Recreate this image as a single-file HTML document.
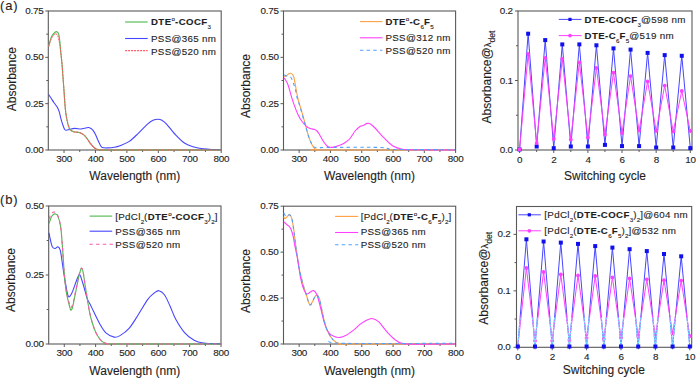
<!DOCTYPE html><html><head><meta charset="utf-8"><style>html,body{margin:0;padding:0;background:#fff;width:696px;height:378px;overflow:hidden}svg{display:block}</style></head><body>
<svg width="696" height="378" viewBox="0 0 696 378" font-family='"Liberation Sans", sans-serif' stroke-linecap="butt"><style>text{stroke:#1e1e1e;stroke-width:0.12px;paint-order:stroke}</style>
<text x="0" y="9.8" font-size="13" letter-spacing="0.8" fill="#1e1e1e">(a)</text>
<text x="0" y="203.8" font-size="13" letter-spacing="0.8" fill="#1e1e1e">(b)</text>
<rect x="48.3" y="11" width="172.89999999999998" height="139" fill="none" stroke="#5a5a5a" stroke-width="1.1"/>
<line x1="64.02" y1="150" x2="64.02" y2="153" stroke="#5a5a5a" stroke-width="1"/>
<text x="64.14" y="161.60" text-anchor="middle" font-size="9.9" letter-spacing="-0.25" fill="#1e1e1e">300</text>
<line x1="95.45" y1="150" x2="95.45" y2="153" stroke="#5a5a5a" stroke-width="1"/>
<text x="95.57" y="161.60" text-anchor="middle" font-size="9.9" letter-spacing="-0.25" fill="#1e1e1e">400</text>
<line x1="126.89" y1="150" x2="126.89" y2="153" stroke="#5a5a5a" stroke-width="1"/>
<text x="127.01" y="161.60" text-anchor="middle" font-size="9.9" letter-spacing="-0.25" fill="#1e1e1e">500</text>
<line x1="158.33" y1="150" x2="158.33" y2="153" stroke="#5a5a5a" stroke-width="1"/>
<text x="158.45" y="161.60" text-anchor="middle" font-size="9.9" letter-spacing="-0.25" fill="#1e1e1e">600</text>
<line x1="189.76" y1="150" x2="189.76" y2="153" stroke="#5a5a5a" stroke-width="1"/>
<text x="189.88" y="161.60" text-anchor="middle" font-size="9.9" letter-spacing="-0.25" fill="#1e1e1e">700</text>
<line x1="221.20" y1="150" x2="221.20" y2="153" stroke="#5a5a5a" stroke-width="1"/>
<text x="221.32" y="161.60" text-anchor="middle" font-size="9.9" letter-spacing="-0.25" fill="#1e1e1e">800</text>
<line x1="79.74" y1="150" x2="79.74" y2="152" stroke="#5a5a5a" stroke-width="1"/>
<line x1="111.17" y1="150" x2="111.17" y2="152" stroke="#5a5a5a" stroke-width="1"/>
<line x1="142.61" y1="150" x2="142.61" y2="152" stroke="#5a5a5a" stroke-width="1"/>
<line x1="174.05" y1="150" x2="174.05" y2="152" stroke="#5a5a5a" stroke-width="1"/>
<line x1="205.48" y1="150" x2="205.48" y2="152" stroke="#5a5a5a" stroke-width="1"/>
<line x1="45.3" y1="150.0" x2="48.3" y2="150.0" stroke="#5a5a5a" stroke-width="1"/>
<text x="43.6" y="153.00" text-anchor="end" font-size="9.9" letter-spacing="-0.25" fill="#1e1e1e">0.00</text>
<line x1="45.3" y1="103.66666666666666" x2="48.3" y2="103.66666666666666" stroke="#5a5a5a" stroke-width="1"/>
<text x="43.6" y="106.67" text-anchor="end" font-size="9.9" letter-spacing="-0.25" fill="#1e1e1e">0.25</text>
<line x1="45.3" y1="57.33333333333333" x2="48.3" y2="57.33333333333333" stroke="#5a5a5a" stroke-width="1"/>
<text x="43.6" y="60.33" text-anchor="end" font-size="9.9" letter-spacing="-0.25" fill="#1e1e1e">0.50</text>
<line x1="45.3" y1="11.0" x2="48.3" y2="11.0" stroke="#5a5a5a" stroke-width="1"/>
<text x="43.6" y="14.00" text-anchor="end" font-size="9.9" letter-spacing="-0.25" fill="#1e1e1e">0.75</text>
<line x1="46.3" y1="126.83333333333333" x2="48.3" y2="126.83333333333333" stroke="#5a5a5a" stroke-width="1"/>
<line x1="46.3" y1="80.5" x2="48.3" y2="80.5" stroke="#5a5a5a" stroke-width="1"/>
<line x1="46.3" y1="34.16666666666666" x2="48.3" y2="34.16666666666666" stroke="#5a5a5a" stroke-width="1"/>
<text x="134.8" y="180.3" text-anchor="middle" font-size="12" fill="#1e1e1e">Wavelength (nm)</text>
<text transform="translate(16.1,79.2) rotate(-90)" text-anchor="middle" font-size="12" fill="#1e1e1e">Absorbance</text>
<path d="M48.60,94.50 C49.05,95.17 50.42,97.17 51.30,98.50 C52.18,99.83 52.92,101.07 53.90,102.50 C54.88,103.93 56.32,105.57 57.20,107.10 C58.08,108.63 58.53,109.60 59.20,111.70 C59.87,113.80 60.53,117.32 61.20,119.70 C61.87,122.08 62.62,124.37 63.20,126.00 C63.78,127.63 64.17,128.78 64.70,129.50 C65.23,130.22 65.53,130.32 66.40,130.30 C67.27,130.28 68.53,129.72 69.90,129.40 C71.27,129.08 72.75,128.47 74.60,128.40 C76.45,128.33 79.35,129.03 81.00,129.00 C82.65,128.97 83.27,128.45 84.50,128.20 C85.73,127.95 87.32,127.45 88.40,127.50 C89.48,127.55 90.23,128.03 91.00,128.50 C91.77,128.97 92.25,129.30 93.00,130.30 C93.75,131.30 94.72,132.95 95.50,134.50 C96.28,136.05 97.03,138.10 97.70,139.60 C98.37,141.10 98.88,142.30 99.50,143.50 C100.12,144.70 100.65,146.08 101.40,146.80 C102.15,147.52 103.07,147.62 104.00,147.80 C104.93,147.98 105.27,148.00 107.00,147.90 C108.73,147.80 112.23,147.57 114.40,147.20 C116.57,146.83 117.52,146.67 120.00,145.70 C122.48,144.73 126.22,143.50 129.30,141.40 C132.38,139.30 135.42,136.03 138.50,133.10 C141.58,130.17 145.38,125.93 147.80,123.80 C150.22,121.67 151.30,121.07 153.00,120.30 C154.70,119.53 156.50,119.20 158.00,119.20 C159.50,119.20 160.62,119.53 162.00,120.30 C163.38,121.07 164.03,121.37 166.30,123.80 C168.57,126.23 172.52,131.65 175.60,134.90 C178.68,138.15 181.72,141.28 184.80,143.30 C187.88,145.32 191.02,146.08 194.10,147.00 C197.18,147.92 200.32,148.38 203.30,148.80 C206.28,149.22 209.05,149.35 212.00,149.50 C214.95,149.65 219.50,149.67 221.00,149.70" fill="none" stroke="#4646ff" stroke-width="1.1" stroke-linejoin="round"/>
<path d="M48.60,46.50 C49.05,44.95 50.42,39.40 51.30,37.20 C52.18,35.00 53.07,34.23 53.90,33.30 C54.73,32.37 55.52,31.50 56.30,31.60 C57.08,31.70 58.00,32.18 58.60,33.90 C59.20,35.62 59.53,38.80 59.90,41.90 C60.27,45.00 60.47,48.98 60.80,52.50 C61.13,56.02 61.55,59.08 61.90,63.00 C62.25,66.92 62.57,71.63 62.90,76.00 C63.23,80.37 63.58,84.78 63.90,89.20 C64.22,93.62 64.48,98.53 64.80,102.50 C65.12,106.47 65.40,109.92 65.80,113.00 C66.20,116.08 66.75,118.83 67.20,121.00 C67.65,123.17 68.05,124.60 68.50,126.00 C68.95,127.40 69.05,128.43 69.90,129.40 C70.75,130.37 72.05,131.28 73.60,131.80 C75.15,132.32 77.50,131.98 79.20,132.50 C80.90,133.02 82.50,133.90 83.80,134.90 C85.10,135.90 85.92,137.10 87.00,138.50 C88.08,139.90 89.30,141.97 90.30,143.30 C91.30,144.63 92.07,145.58 93.00,146.50 C93.93,147.42 94.82,148.27 95.90,148.80 C96.98,149.33 97.15,149.50 99.50,149.70 C101.85,149.90 89.75,149.95 110.00,150.00 C130.25,150.05 202.50,150.00 221.00,150.00" fill="none" stroke="#4cb84c" stroke-width="1.1" stroke-linejoin="round"/>
<path d="M48.60,46.50 C49.05,45.18 50.42,40.58 51.30,38.60 C52.18,36.62 53.20,35.40 53.90,34.60 C54.60,33.80 54.85,33.60 55.50,33.80 C56.15,34.00 57.12,34.18 57.80,35.80 C58.48,37.42 59.10,40.72 59.60,43.50 C60.10,46.28 60.42,49.25 60.80,52.50 C61.18,55.75 61.55,59.08 61.90,63.00 C62.25,66.92 62.57,71.63 62.90,76.00 C63.23,80.37 63.58,84.78 63.90,89.20 C64.22,93.62 64.48,98.53 64.80,102.50 C65.12,106.47 65.40,109.92 65.80,113.00 C66.20,116.08 66.75,118.83 67.20,121.00 C67.65,123.17 68.05,124.60 68.50,126.00 C68.95,127.40 69.05,128.43 69.90,129.40 C70.75,130.37 72.05,131.28 73.60,131.80 C75.15,132.32 77.50,131.98 79.20,132.50 C80.90,133.02 82.50,133.90 83.80,134.90 C85.10,135.90 85.92,137.10 87.00,138.50 C88.08,139.90 89.30,141.97 90.30,143.30 C91.30,144.63 92.07,145.58 93.00,146.50 C93.93,147.42 94.82,148.27 95.90,148.80 C96.98,149.33 97.15,149.50 99.50,149.70 C101.85,149.90 89.75,149.95 110.00,150.00 C130.25,150.05 202.50,150.00 221.00,150.00" fill="none" stroke="#ff5a66" stroke-width="1.1" stroke-dasharray="2,1" stroke-linejoin="round"/>
<line x1="125.1" y1="22" x2="147.7" y2="22" stroke="#4cb84c" stroke-width="1.1"/>
<line x1="125.1" y1="38.5" x2="147.7" y2="38.5" stroke="#4646ff" stroke-width="1.1"/>
<line x1="125.1" y1="50.6" x2="147.7" y2="50.6" stroke="#ff5a66" stroke-width="1.1" stroke-dasharray="2,1"/>
<text x="151" y="25.2" fill="#1e1e1e"><tspan dy="0.00" font-size="9.6" letter-spacing="0.42" font-weight="bold">DTE</tspan><tspan dy="-4.30" font-size="6.2" letter-spacing="0.2">o</tspan><tspan dy="4.30" font-size="9.6" letter-spacing="0.42" font-weight="bold">-COCF</tspan><tspan dy="4.10" font-size="6.2" letter-spacing="0">3</tspan></text>
<text x="151" y="42.1" fill="#1e1e1e"><tspan dy="0.00" font-size="9.8" letter-spacing="0.3">PSS@365 nm</tspan></text>
<text x="151" y="55" fill="#1e1e1e"><tspan dy="0.00" font-size="9.8" letter-spacing="0.3">PSS@520 nm</tspan></text>
<rect x="283.5" y="11" width="172.10000000000002" height="139" fill="none" stroke="#5a5a5a" stroke-width="1.1"/>
<line x1="299.15" y1="150" x2="299.15" y2="153" stroke="#5a5a5a" stroke-width="1"/>
<text x="299.27" y="161.60" text-anchor="middle" font-size="9.9" letter-spacing="-0.25" fill="#1e1e1e">300</text>
<line x1="330.44" y1="150" x2="330.44" y2="153" stroke="#5a5a5a" stroke-width="1"/>
<text x="330.56" y="161.60" text-anchor="middle" font-size="9.9" letter-spacing="-0.25" fill="#1e1e1e">400</text>
<line x1="361.73" y1="150" x2="361.73" y2="153" stroke="#5a5a5a" stroke-width="1"/>
<text x="361.85" y="161.60" text-anchor="middle" font-size="9.9" letter-spacing="-0.25" fill="#1e1e1e">500</text>
<line x1="393.02" y1="150" x2="393.02" y2="153" stroke="#5a5a5a" stroke-width="1"/>
<text x="393.14" y="161.60" text-anchor="middle" font-size="9.9" letter-spacing="-0.25" fill="#1e1e1e">600</text>
<line x1="424.31" y1="150" x2="424.31" y2="153" stroke="#5a5a5a" stroke-width="1"/>
<text x="424.43" y="161.60" text-anchor="middle" font-size="9.9" letter-spacing="-0.25" fill="#1e1e1e">700</text>
<line x1="455.60" y1="150" x2="455.60" y2="153" stroke="#5a5a5a" stroke-width="1"/>
<text x="455.72" y="161.60" text-anchor="middle" font-size="9.9" letter-spacing="-0.25" fill="#1e1e1e">800</text>
<line x1="314.79" y1="150" x2="314.79" y2="152" stroke="#5a5a5a" stroke-width="1"/>
<line x1="346.08" y1="150" x2="346.08" y2="152" stroke="#5a5a5a" stroke-width="1"/>
<line x1="377.37" y1="150" x2="377.37" y2="152" stroke="#5a5a5a" stroke-width="1"/>
<line x1="408.66" y1="150" x2="408.66" y2="152" stroke="#5a5a5a" stroke-width="1"/>
<line x1="439.95" y1="150" x2="439.95" y2="152" stroke="#5a5a5a" stroke-width="1"/>
<line x1="280.5" y1="150.0" x2="283.5" y2="150.0" stroke="#5a5a5a" stroke-width="1"/>
<text x="278.8" y="153.00" text-anchor="end" font-size="9.9" letter-spacing="-0.25" fill="#1e1e1e">0.00</text>
<line x1="280.5" y1="103.66666666666666" x2="283.5" y2="103.66666666666666" stroke="#5a5a5a" stroke-width="1"/>
<text x="278.8" y="106.67" text-anchor="end" font-size="9.9" letter-spacing="-0.25" fill="#1e1e1e">0.25</text>
<line x1="280.5" y1="57.33333333333333" x2="283.5" y2="57.33333333333333" stroke="#5a5a5a" stroke-width="1"/>
<text x="278.8" y="60.33" text-anchor="end" font-size="9.9" letter-spacing="-0.25" fill="#1e1e1e">0.50</text>
<line x1="280.5" y1="11.0" x2="283.5" y2="11.0" stroke="#5a5a5a" stroke-width="1"/>
<text x="278.8" y="14.00" text-anchor="end" font-size="9.9" letter-spacing="-0.25" fill="#1e1e1e">0.75</text>
<line x1="281.5" y1="126.83333333333333" x2="283.5" y2="126.83333333333333" stroke="#5a5a5a" stroke-width="1"/>
<line x1="281.5" y1="80.5" x2="283.5" y2="80.5" stroke="#5a5a5a" stroke-width="1"/>
<line x1="281.5" y1="34.16666666666666" x2="283.5" y2="34.16666666666666" stroke="#5a5a5a" stroke-width="1"/>
<text x="369.5" y="180.3" text-anchor="middle" font-size="12" fill="#1e1e1e">Wavelength (nm)</text>
<text transform="translate(250.2,86) rotate(-90)" text-anchor="middle" font-size="12" fill="#1e1e1e">Absorbance</text>
<path d="M284.20,76.90 C284.55,76.73 285.58,76.38 286.30,75.90 C287.02,75.42 287.78,74.45 288.50,74.00 C289.22,73.55 289.93,73.12 290.60,73.20 C291.27,73.28 291.97,73.87 292.50,74.50 C293.03,75.13 293.35,75.42 293.80,77.00 C294.25,78.58 294.70,81.33 295.20,84.00 C295.70,86.67 296.25,90.17 296.80,93.00 C297.35,95.83 297.88,98.58 298.50,101.00 C299.12,103.42 299.75,105.00 300.50,107.50 C301.25,110.00 302.20,113.20 303.00,116.00 C303.80,118.80 304.22,120.45 305.30,124.30 C306.38,128.15 308.08,135.22 309.50,139.10 C310.92,142.98 312.55,145.87 313.80,147.60 C315.05,149.33 315.63,149.10 317.00,149.50 C318.37,149.90 299.00,149.92 322.00,150.00 C345.00,150.08 432.83,150.00 455.00,150.00" fill="none" stroke="#ffa040" stroke-width="1.1" stroke-linejoin="round"/>
<path d="M284.20,78.00 C284.73,78.88 286.52,81.37 287.40,83.30 C288.28,85.23 288.70,86.95 289.50,89.60 C290.30,92.25 291.15,95.90 292.20,99.20 C293.25,102.50 294.83,106.85 295.80,109.40 C296.77,111.95 297.13,112.73 298.00,114.50 C298.87,116.27 299.60,118.02 301.00,120.00 C302.40,121.98 304.90,124.98 306.40,126.40 C307.90,127.82 308.60,127.97 310.00,128.50 C311.40,129.03 313.63,129.18 314.80,129.60 C315.97,130.02 316.30,130.30 317.00,131.00 C317.70,131.70 317.95,132.10 319.00,133.80 C320.05,135.50 321.87,139.08 323.30,141.20 C324.73,143.32 326.40,145.48 327.60,146.50 C328.80,147.52 329.45,147.20 330.50,147.30 C331.55,147.40 332.48,147.38 333.90,147.10 C335.32,146.82 337.23,146.28 339.00,145.60 C340.77,144.92 342.67,144.18 344.50,143.00 C346.33,141.82 348.23,140.50 350.00,138.50 C351.77,136.50 353.43,133.00 355.10,131.00 C356.77,129.00 358.58,127.45 360.00,126.50 C361.42,125.55 362.42,125.82 363.60,125.30 C364.78,124.78 366.03,123.65 367.10,123.40 C368.17,123.15 368.77,123.12 370.00,123.80 C371.23,124.48 372.20,125.18 374.50,127.50 C376.80,129.82 380.72,134.62 383.80,137.70 C386.88,140.78 389.92,144.08 393.00,146.00 C396.08,147.92 398.63,148.57 402.30,149.20 C405.97,149.83 406.22,149.67 415.00,149.80 C423.78,149.93 448.33,149.97 455.00,150.00" fill="none" stroke="#ff40ff" stroke-width="1.1" stroke-linejoin="round"/>
<path d="M284.20,74.80 C284.55,74.98 285.23,75.53 286.30,75.90 C287.37,76.27 289.35,75.60 290.60,77.00 C291.85,78.40 292.92,81.85 293.80,84.30 C294.68,86.75 295.28,89.22 295.90,91.70 C296.52,94.18 296.82,96.73 297.50,99.20 C298.18,101.67 298.75,102.37 300.00,106.50 C301.25,110.63 303.42,118.58 305.00,124.00 C306.58,129.42 308.08,135.25 309.50,139.00 C310.92,142.75 312.08,145.07 313.50,146.50 C314.92,147.93 315.25,147.45 318.00,147.60 C320.75,147.75 320.00,147.43 330.00,147.40 C340.00,147.37 368.33,147.20 378.00,147.40 C387.67,147.60 385.00,148.25 388.00,148.60 C391.00,148.95 384.83,149.32 396.00,149.50 C407.17,149.68 445.17,149.67 455.00,149.70" fill="none" stroke="#50a0ff" stroke-width="1.1" stroke-dasharray="3.4,3.3" stroke-linejoin="round"/>
<line x1="359.9" y1="21.6" x2="382.4" y2="21.6" stroke="#ffa040" stroke-width="1.1"/>
<line x1="359.9" y1="37.8" x2="382.4" y2="37.8" stroke="#ff40ff" stroke-width="1.1"/>
<line x1="359.9" y1="50.2" x2="382.4" y2="50.2" stroke="#50a0ff" stroke-width="1.1" stroke-dasharray="3.4,3.3"/>
<text x="385.4" y="25.1" fill="#1e1e1e"><tspan dy="0.00" font-size="9.6" letter-spacing="0.42" font-weight="bold">DTE</tspan><tspan dy="-4.30" font-size="6.2" letter-spacing="0.2">o</tspan><tspan dy="4.30" font-size="9.6" letter-spacing="0.42" font-weight="bold">-C</tspan><tspan dy="4.10" font-size="6.2" letter-spacing="0">6</tspan><tspan dy="-4.10" font-size="9.6" letter-spacing="0.42" font-weight="bold">F</tspan><tspan dy="4.10" font-size="6.2" letter-spacing="0">5</tspan></text>
<text x="385.4" y="41.2" fill="#1e1e1e"><tspan dy="0.00" font-size="9.8" letter-spacing="0.3">PSS@312 nm</tspan></text>
<text x="385.4" y="54.2" fill="#1e1e1e"><tspan dy="0.00" font-size="9.8" letter-spacing="0.3">PSS@520 nm</tspan></text>
<rect x="518" y="11" width="174" height="139" fill="none" stroke="#5a5a5a" stroke-width="1.1"/>
<line x1="519.60" y1="150" x2="519.60" y2="153" stroke="#5a5a5a" stroke-width="1"/>
<text x="519.72" y="163.20" text-anchor="middle" font-size="9.9" letter-spacing="-0.25" fill="#1e1e1e">0</text>
<line x1="553.74" y1="150" x2="553.74" y2="153" stroke="#5a5a5a" stroke-width="1"/>
<text x="553.86" y="163.20" text-anchor="middle" font-size="9.9" letter-spacing="-0.25" fill="#1e1e1e">2</text>
<line x1="587.88" y1="150" x2="587.88" y2="153" stroke="#5a5a5a" stroke-width="1"/>
<text x="588.00" y="163.20" text-anchor="middle" font-size="9.9" letter-spacing="-0.25" fill="#1e1e1e">4</text>
<line x1="622.02" y1="150" x2="622.02" y2="153" stroke="#5a5a5a" stroke-width="1"/>
<text x="622.14" y="163.20" text-anchor="middle" font-size="9.9" letter-spacing="-0.25" fill="#1e1e1e">6</text>
<line x1="656.16" y1="150" x2="656.16" y2="153" stroke="#5a5a5a" stroke-width="1"/>
<text x="656.28" y="163.20" text-anchor="middle" font-size="9.9" letter-spacing="-0.25" fill="#1e1e1e">8</text>
<line x1="690.30" y1="150" x2="690.30" y2="153" stroke="#5a5a5a" stroke-width="1"/>
<text x="690.42" y="163.20" text-anchor="middle" font-size="9.9" letter-spacing="-0.25" fill="#1e1e1e">10</text>
<line x1="536.67" y1="150" x2="536.67" y2="152" stroke="#5a5a5a" stroke-width="1"/>
<line x1="570.81" y1="150" x2="570.81" y2="152" stroke="#5a5a5a" stroke-width="1"/>
<line x1="604.95" y1="150" x2="604.95" y2="152" stroke="#5a5a5a" stroke-width="1"/>
<line x1="639.09" y1="150" x2="639.09" y2="152" stroke="#5a5a5a" stroke-width="1"/>
<line x1="673.23" y1="150" x2="673.23" y2="152" stroke="#5a5a5a" stroke-width="1"/>
<line x1="515" y1="150" x2="518" y2="150" stroke="#5a5a5a" stroke-width="1"/>
<text x="512.8" y="153.00" text-anchor="end" font-size="9.9" letter-spacing="-0.25" fill="#1e1e1e">0.0</text>
<line x1="515" y1="80.5" x2="518" y2="80.5" stroke="#5a5a5a" stroke-width="1"/>
<text x="512.8" y="83.50" text-anchor="end" font-size="9.9" letter-spacing="-0.25" fill="#1e1e1e">0.1</text>
<line x1="515" y1="11.0" x2="518" y2="11.0" stroke="#5a5a5a" stroke-width="1"/>
<text x="512.8" y="14.00" text-anchor="end" font-size="9.9" letter-spacing="-0.25" fill="#1e1e1e">0.2</text>
<line x1="516" y1="115.25" x2="518" y2="115.25" stroke="#5a5a5a" stroke-width="1"/>
<line x1="516" y1="45.75" x2="518" y2="45.75" stroke="#5a5a5a" stroke-width="1"/>
<text x="605" y="180.3" text-anchor="middle" font-size="12" fill="#1e1e1e">Switching cycle</text>
<text transform="translate(491.3,123.5) rotate(-90)" font-size="12" fill="#1e1e1e">Absorbance@<tspan font-size="9.5">&#955;</tspan><tspan font-size="8.6" dy="4">det</tspan></text>
<path d="M519.60,149.50 L528.13,33.70 L536.67,146.50 L545.21,40.10 L553.74,148.20 L562.27,44.40 L570.81,146.50 L579.35,44.40 L587.88,146.50 L596.41,45.30 L604.95,144.90 L613.49,48.40 L622.02,146.10 L630.56,49.60 L639.09,146.10 L647.62,52.90 L656.16,147.50 L664.70,55.10 L673.23,147.50 L681.76,55.80 L690.30,148.10" fill="none" stroke="#4646ff" stroke-width="1.0" stroke-linejoin="round"/>
<rect x="517.60" y="147.50" width="4" height="4" fill="#1010ee"/>
<rect x="526.13" y="31.70" width="4" height="4" fill="#1010ee"/>
<rect x="534.67" y="144.50" width="4" height="4" fill="#1010ee"/>
<rect x="543.21" y="38.10" width="4" height="4" fill="#1010ee"/>
<rect x="551.74" y="146.20" width="4" height="4" fill="#1010ee"/>
<rect x="560.27" y="42.40" width="4" height="4" fill="#1010ee"/>
<rect x="568.81" y="144.50" width="4" height="4" fill="#1010ee"/>
<rect x="577.35" y="42.40" width="4" height="4" fill="#1010ee"/>
<rect x="585.88" y="144.50" width="4" height="4" fill="#1010ee"/>
<rect x="594.41" y="43.30" width="4" height="4" fill="#1010ee"/>
<rect x="602.95" y="142.90" width="4" height="4" fill="#1010ee"/>
<rect x="611.49" y="46.40" width="4" height="4" fill="#1010ee"/>
<rect x="620.02" y="144.10" width="4" height="4" fill="#1010ee"/>
<rect x="628.56" y="47.60" width="4" height="4" fill="#1010ee"/>
<rect x="637.09" y="144.10" width="4" height="4" fill="#1010ee"/>
<rect x="645.62" y="50.90" width="4" height="4" fill="#1010ee"/>
<rect x="654.16" y="145.50" width="4" height="4" fill="#1010ee"/>
<rect x="662.70" y="53.10" width="4" height="4" fill="#1010ee"/>
<rect x="671.23" y="145.50" width="4" height="4" fill="#1010ee"/>
<rect x="679.76" y="53.80" width="4" height="4" fill="#1010ee"/>
<rect x="688.30" y="146.10" width="4" height="4" fill="#1010ee"/>
<path d="M519.60,149.50 L528.13,53.90 L536.67,143.10 L545.21,57.90 L553.74,139.00 L562.27,58.80 L570.81,139.60 L579.35,62.30 L587.88,137.60 L596.41,67.90 L604.95,134.40 L613.49,72.70 L622.02,133.00 L630.56,76.10 L639.09,130.60 L647.62,81.40 L656.16,131.00 L664.70,85.60 L673.23,131.60 L681.76,91.00 L690.30,131.00" fill="none" stroke="#ff40ff" stroke-width="1.0" stroke-linejoin="round"/>
<circle cx="519.60" cy="149.50" r="1.9" fill="#ff40ff"/>
<circle cx="528.13" cy="53.90" r="1.9" fill="#ff40ff"/>
<circle cx="536.67" cy="143.10" r="1.9" fill="#ff40ff"/>
<circle cx="545.21" cy="57.90" r="1.9" fill="#ff40ff"/>
<circle cx="553.74" cy="139.00" r="1.9" fill="#ff40ff"/>
<circle cx="562.27" cy="58.80" r="1.9" fill="#ff40ff"/>
<circle cx="570.81" cy="139.60" r="1.9" fill="#ff40ff"/>
<circle cx="579.35" cy="62.30" r="1.9" fill="#ff40ff"/>
<circle cx="587.88" cy="137.60" r="1.9" fill="#ff40ff"/>
<circle cx="596.41" cy="67.90" r="1.9" fill="#ff40ff"/>
<circle cx="604.95" cy="134.40" r="1.9" fill="#ff40ff"/>
<circle cx="613.49" cy="72.70" r="1.9" fill="#ff40ff"/>
<circle cx="622.02" cy="133.00" r="1.9" fill="#ff40ff"/>
<circle cx="630.56" cy="76.10" r="1.9" fill="#ff40ff"/>
<circle cx="639.09" cy="130.60" r="1.9" fill="#ff40ff"/>
<circle cx="647.62" cy="81.40" r="1.9" fill="#ff40ff"/>
<circle cx="656.16" cy="131.00" r="1.9" fill="#ff40ff"/>
<circle cx="664.70" cy="85.60" r="1.9" fill="#ff40ff"/>
<circle cx="673.23" cy="131.60" r="1.9" fill="#ff40ff"/>
<circle cx="681.76" cy="91.00" r="1.9" fill="#ff40ff"/>
<circle cx="690.30" cy="131.00" r="1.9" fill="#ff40ff"/>
<line x1="558.8" y1="19.4" x2="581.5" y2="19.4" stroke="#4646ff" stroke-width="1"/>
<rect x="568.4" y="17.8" width="3.2" height="3.2" fill="#1010ee"/>
<line x1="558.8" y1="35.6" x2="581.5" y2="35.6" stroke="#ff40ff" stroke-width="1"/>
<circle cx="570" cy="35.6" r="1.9" fill="#ff40ff"/>
<text x="584.6" y="23" fill="#1e1e1e"><tspan dy="0.00" font-size="9.6" letter-spacing="0.42" font-weight="bold">DTE-COCF</tspan><tspan dy="4.10" font-size="6.2" letter-spacing="0">3</tspan><tspan dy="-4.10" font-size="9.8" letter-spacing="0.3">@598 nm</tspan></text>
<text x="584.6" y="39" fill="#1e1e1e"><tspan dy="0.00" font-size="9.6" letter-spacing="0.42" font-weight="bold">DTE-C</tspan><tspan dy="4.10" font-size="6.2" letter-spacing="0">6</tspan><tspan dy="-4.10" font-size="9.6" letter-spacing="0.42" font-weight="bold">F</tspan><tspan dy="4.10" font-size="6.2" letter-spacing="0">5</tspan><tspan dy="-4.10" font-size="9.8" letter-spacing="0.3">@519 nm</tspan></text>
<rect x="48.7" y="206" width="172.3" height="138" fill="none" stroke="#5a5a5a" stroke-width="1.1"/>
<line x1="64.27" y1="344" x2="64.27" y2="347" stroke="#5a5a5a" stroke-width="1"/>
<text x="64.39" y="355.50" text-anchor="middle" font-size="9.9" letter-spacing="-0.25" fill="#1e1e1e">300</text>
<line x1="95.62" y1="344" x2="95.62" y2="347" stroke="#5a5a5a" stroke-width="1"/>
<text x="95.74" y="355.50" text-anchor="middle" font-size="9.9" letter-spacing="-0.25" fill="#1e1e1e">400</text>
<line x1="126.96" y1="344" x2="126.96" y2="347" stroke="#5a5a5a" stroke-width="1"/>
<text x="127.08" y="355.50" text-anchor="middle" font-size="9.9" letter-spacing="-0.25" fill="#1e1e1e">500</text>
<line x1="158.31" y1="344" x2="158.31" y2="347" stroke="#5a5a5a" stroke-width="1"/>
<text x="158.43" y="355.50" text-anchor="middle" font-size="9.9" letter-spacing="-0.25" fill="#1e1e1e">600</text>
<line x1="189.65" y1="344" x2="189.65" y2="347" stroke="#5a5a5a" stroke-width="1"/>
<text x="189.77" y="355.50" text-anchor="middle" font-size="9.9" letter-spacing="-0.25" fill="#1e1e1e">700</text>
<line x1="221.00" y1="344" x2="221.00" y2="347" stroke="#5a5a5a" stroke-width="1"/>
<text x="221.12" y="355.50" text-anchor="middle" font-size="9.9" letter-spacing="-0.25" fill="#1e1e1e">800</text>
<line x1="79.95" y1="344" x2="79.95" y2="346" stroke="#5a5a5a" stroke-width="1"/>
<line x1="111.29" y1="344" x2="111.29" y2="346" stroke="#5a5a5a" stroke-width="1"/>
<line x1="142.64" y1="344" x2="142.64" y2="346" stroke="#5a5a5a" stroke-width="1"/>
<line x1="173.98" y1="344" x2="173.98" y2="346" stroke="#5a5a5a" stroke-width="1"/>
<line x1="205.33" y1="344" x2="205.33" y2="346" stroke="#5a5a5a" stroke-width="1"/>
<line x1="45.7" y1="344.0" x2="48.7" y2="344.0" stroke="#5a5a5a" stroke-width="1"/>
<text x="43.7" y="347.00" text-anchor="end" font-size="9.9" letter-spacing="-0.25" fill="#1e1e1e">0.00</text>
<line x1="45.7" y1="275.0" x2="48.7" y2="275.0" stroke="#5a5a5a" stroke-width="1"/>
<text x="43.7" y="278.00" text-anchor="end" font-size="9.9" letter-spacing="-0.25" fill="#1e1e1e">0.25</text>
<line x1="45.7" y1="206.0" x2="48.7" y2="206.0" stroke="#5a5a5a" stroke-width="1"/>
<text x="43.7" y="209.00" text-anchor="end" font-size="9.9" letter-spacing="-0.25" fill="#1e1e1e">0.50</text>
<line x1="46.7" y1="309.5" x2="48.7" y2="309.5" stroke="#5a5a5a" stroke-width="1"/>
<line x1="46.7" y1="240.5" x2="48.7" y2="240.5" stroke="#5a5a5a" stroke-width="1"/>
<text x="134.8" y="374.5" text-anchor="middle" font-size="12" fill="#1e1e1e">Wavelength (nm)</text>
<text transform="translate(15.4,280) rotate(-90)" text-anchor="middle" font-size="12" fill="#1e1e1e">Absorbance</text>
<path d="M49.00,232.80 C49.25,234.03 49.95,237.88 50.50,240.20 C51.05,242.52 51.53,245.32 52.30,246.70 C53.07,248.08 54.17,248.50 55.10,248.50 C56.03,248.50 57.03,246.38 57.90,246.70 C58.77,247.02 59.53,247.47 60.30,250.40 C61.07,253.33 61.95,260.70 62.50,264.30 C63.05,267.90 63.07,268.65 63.60,272.00 C64.13,275.35 65.05,280.73 65.70,284.40 C66.35,288.07 66.98,291.93 67.50,294.00 C68.02,296.07 68.30,296.55 68.80,296.80 C69.30,297.05 69.82,296.53 70.50,295.50 C71.18,294.47 71.82,293.30 72.90,290.60 C73.98,287.90 75.88,281.97 77.00,279.30 C78.12,276.63 78.73,274.27 79.60,274.60 C80.47,274.93 81.33,278.73 82.20,281.30 C83.07,283.87 83.95,287.07 84.80,290.00 C85.65,292.93 86.35,296.40 87.30,298.90 C88.25,301.40 89.47,302.93 90.50,305.00 C91.53,307.07 91.97,308.18 93.50,311.30 C95.03,314.42 97.63,320.10 99.70,323.70 C101.77,327.30 103.48,330.67 105.90,332.90 C108.32,335.13 111.85,336.65 114.20,337.10 C116.55,337.55 117.48,337.10 120.00,335.60 C122.52,334.10 126.22,331.65 129.30,328.10 C132.38,324.55 135.42,319.08 138.50,314.30 C141.58,309.52 145.17,302.95 147.80,299.40 C150.43,295.85 152.45,294.45 154.30,293.00 C156.15,291.55 157.22,290.40 158.90,290.70 C160.58,291.00 162.55,292.27 164.40,294.80 C166.25,297.33 168.13,301.88 170.00,305.90 C171.87,309.92 173.13,314.42 175.60,318.90 C178.07,323.38 181.72,329.25 184.80,332.80 C187.88,336.35 191.02,338.50 194.10,340.20 C197.18,341.90 198.82,342.38 203.30,343.00 C207.78,343.62 218.05,343.75 221.00,343.90" fill="none" stroke="#4646ff" stroke-width="1.1" stroke-linejoin="round"/>
<path d="M49.00,223.50 C49.40,222.42 50.73,218.45 51.40,217.00 C52.07,215.55 52.38,215.32 53.00,214.80 C53.62,214.28 54.28,213.68 55.10,213.90 C55.92,214.12 56.97,213.88 57.90,216.10 C58.83,218.32 59.93,221.95 60.70,227.20 C61.47,232.45 61.90,239.80 62.50,247.60 C63.10,255.40 63.72,266.93 64.30,274.00 C64.88,281.07 65.43,285.85 66.00,290.00 C66.57,294.15 67.12,296.23 67.70,298.90 C68.28,301.57 68.98,304.12 69.50,306.00 C70.02,307.88 70.33,309.87 70.80,310.20 C71.27,310.53 71.78,309.53 72.30,308.00 C72.82,306.47 72.95,305.62 73.90,301.00 C74.85,296.38 76.98,285.13 78.00,280.30 C79.02,275.47 79.38,274.02 80.00,272.00 C80.62,269.98 81.15,268.03 81.70,268.20 C82.25,268.37 82.70,269.95 83.30,273.00 C83.90,276.05 84.28,280.12 85.30,286.50 C86.32,292.88 88.20,305.13 89.40,311.30 C90.60,317.47 91.47,320.07 92.50,323.50 C93.53,326.93 94.57,329.57 95.60,331.90 C96.63,334.23 97.67,335.95 98.70,337.50 C99.73,339.05 100.60,340.23 101.80,341.20 C103.00,342.17 103.70,342.83 105.90,343.30 C108.10,343.77 95.82,343.88 115.00,344.00 C134.18,344.12 203.33,344.00 221.00,344.00" fill="none" stroke="#4cb84c" stroke-width="1.1" stroke-linejoin="round"/>
<path d="M49.00,218.90 C49.42,218.00 50.63,214.65 51.50,213.50 C52.37,212.35 53.37,212.00 54.20,212.00 C55.03,212.00 55.70,212.33 56.50,213.50 C57.30,214.67 58.27,216.42 59.00,219.00 C59.73,221.58 60.32,224.23 60.90,229.00 C61.48,233.77 61.93,240.10 62.50,247.60 C63.07,255.10 63.72,267.02 64.30,274.00 C64.88,280.98 65.43,285.58 66.00,289.50 C66.57,293.42 67.12,295.08 67.70,297.50 C68.28,299.92 68.98,302.37 69.50,304.00 C70.02,305.63 70.33,307.05 70.80,307.30 C71.27,307.55 71.78,306.80 72.30,305.50 C72.82,304.20 72.95,303.83 73.90,299.50 C74.85,295.17 76.98,284.17 78.00,279.50 C79.02,274.83 79.38,273.42 80.00,271.50 C80.62,269.58 81.15,267.75 81.70,268.00 C82.25,268.25 82.70,269.92 83.30,273.00 C83.90,276.08 84.28,280.12 85.30,286.50 C86.32,292.88 88.20,305.13 89.40,311.30 C90.60,317.47 91.47,320.07 92.50,323.50 C93.53,326.93 94.57,329.57 95.60,331.90 C96.63,334.23 97.67,335.95 98.70,337.50 C99.73,339.05 100.60,340.23 101.80,341.20 C103.00,342.17 103.70,342.83 105.90,343.30 C108.10,343.77 95.82,343.88 115.00,344.00 C134.18,344.12 203.33,344.00 221.00,344.00" fill="none" stroke="#ff5aaa" stroke-width="1.1" stroke-dasharray="3.4,3.3" stroke-linejoin="round"/>
<line x1="89.6" y1="216.1" x2="112.2" y2="216.1" stroke="#4cb84c" stroke-width="1.1"/>
<line x1="89.6" y1="231.2" x2="112.2" y2="231.2" stroke="#4646ff" stroke-width="1.1"/>
<line x1="89.4" y1="244.2" x2="113.2" y2="244.2" stroke="#ff5aaa" stroke-width="1.1" stroke-dasharray="3.4,3.3"/>
<text x="115.2" y="220.1" fill="#1e1e1e"><tspan dy="0.00" font-size="9.8" letter-spacing="0.3">[PdCl</tspan><tspan dy="4.10" font-size="6.2" letter-spacing="0">2</tspan><tspan dy="-4.10" font-size="9.8" letter-spacing="0.3">(</tspan><tspan dy="0.00" font-size="9.6" letter-spacing="0.42" font-weight="bold">DTE</tspan><tspan dy="-4.30" font-size="6.2" letter-spacing="0.2">o</tspan><tspan dy="4.30" font-size="9.6" letter-spacing="0.42" font-weight="bold">-COCF</tspan><tspan dy="4.10" font-size="6.2" letter-spacing="0">3</tspan><tspan dy="-4.10" font-size="9.8" letter-spacing="0.3">)</tspan><tspan dy="4.10" font-size="6.2" letter-spacing="0">2</tspan><tspan dy="-4.10" font-size="9.8" letter-spacing="0.3">]</tspan></text>
<text x="115.2" y="235.2" fill="#1e1e1e"><tspan dy="0.00" font-size="9.8" letter-spacing="0.3">PSS@365 nm</tspan></text>
<text x="115.2" y="247.7" fill="#1e1e1e"><tspan dy="0.00" font-size="9.8" letter-spacing="0.3">PSS@520 nm</tspan></text>
<rect x="283.5" y="206.2" width="172.2" height="137.8" fill="none" stroke="#5a5a5a" stroke-width="1.1"/>
<line x1="299.15" y1="344" x2="299.15" y2="347" stroke="#5a5a5a" stroke-width="1"/>
<text x="299.27" y="355.50" text-anchor="middle" font-size="9.9" letter-spacing="-0.25" fill="#1e1e1e">300</text>
<line x1="330.46" y1="344" x2="330.46" y2="347" stroke="#5a5a5a" stroke-width="1"/>
<text x="330.58" y="355.50" text-anchor="middle" font-size="9.9" letter-spacing="-0.25" fill="#1e1e1e">400</text>
<line x1="361.77" y1="344" x2="361.77" y2="347" stroke="#5a5a5a" stroke-width="1"/>
<text x="361.89" y="355.50" text-anchor="middle" font-size="9.9" letter-spacing="-0.25" fill="#1e1e1e">500</text>
<line x1="393.08" y1="344" x2="393.08" y2="347" stroke="#5a5a5a" stroke-width="1"/>
<text x="393.20" y="355.50" text-anchor="middle" font-size="9.9" letter-spacing="-0.25" fill="#1e1e1e">600</text>
<line x1="424.39" y1="344" x2="424.39" y2="347" stroke="#5a5a5a" stroke-width="1"/>
<text x="424.51" y="355.50" text-anchor="middle" font-size="9.9" letter-spacing="-0.25" fill="#1e1e1e">700</text>
<line x1="455.70" y1="344" x2="455.70" y2="347" stroke="#5a5a5a" stroke-width="1"/>
<text x="455.82" y="355.50" text-anchor="middle" font-size="9.9" letter-spacing="-0.25" fill="#1e1e1e">800</text>
<line x1="314.81" y1="344" x2="314.81" y2="346" stroke="#5a5a5a" stroke-width="1"/>
<line x1="346.12" y1="344" x2="346.12" y2="346" stroke="#5a5a5a" stroke-width="1"/>
<line x1="377.43" y1="344" x2="377.43" y2="346" stroke="#5a5a5a" stroke-width="1"/>
<line x1="408.74" y1="344" x2="408.74" y2="346" stroke="#5a5a5a" stroke-width="1"/>
<line x1="440.05" y1="344" x2="440.05" y2="346" stroke="#5a5a5a" stroke-width="1"/>
<line x1="280.5" y1="344.0" x2="283.5" y2="344.0" stroke="#5a5a5a" stroke-width="1"/>
<text x="278.6" y="347.00" text-anchor="end" font-size="9.9" letter-spacing="-0.25" fill="#1e1e1e">0.00</text>
<line x1="280.5" y1="298.06666666666666" x2="283.5" y2="298.06666666666666" stroke="#5a5a5a" stroke-width="1"/>
<text x="278.6" y="301.07" text-anchor="end" font-size="9.9" letter-spacing="-0.25" fill="#1e1e1e">0.25</text>
<line x1="280.5" y1="252.13333333333333" x2="283.5" y2="252.13333333333333" stroke="#5a5a5a" stroke-width="1"/>
<text x="278.6" y="255.13" text-anchor="end" font-size="9.9" letter-spacing="-0.25" fill="#1e1e1e">0.50</text>
<line x1="280.5" y1="206.2" x2="283.5" y2="206.2" stroke="#5a5a5a" stroke-width="1"/>
<text x="278.6" y="209.20" text-anchor="end" font-size="9.9" letter-spacing="-0.25" fill="#1e1e1e">0.75</text>
<line x1="281.5" y1="321.0333333333333" x2="283.5" y2="321.0333333333333" stroke="#5a5a5a" stroke-width="1"/>
<line x1="281.5" y1="275.1" x2="283.5" y2="275.1" stroke="#5a5a5a" stroke-width="1"/>
<line x1="281.5" y1="229.16666666666666" x2="283.5" y2="229.16666666666666" stroke="#5a5a5a" stroke-width="1"/>
<text x="369.6" y="374.5" text-anchor="middle" font-size="12" fill="#1e1e1e">Wavelength (nm)</text>
<text transform="translate(250,281.1) rotate(-90)" text-anchor="middle" font-size="12" fill="#1e1e1e">Absorbance</text>
<path d="M283.70,216.80 C283.92,217.13 284.45,218.80 285.00,218.80 C285.55,218.80 286.27,217.50 287.00,216.80 C287.73,216.10 288.62,214.38 289.40,214.60 C290.18,214.82 290.98,215.63 291.70,218.10 C292.42,220.57 293.05,224.92 293.70,229.40 C294.35,233.88 295.05,240.73 295.60,245.00 C296.15,249.27 296.57,251.87 297.00,255.00 C297.43,258.13 297.47,259.95 298.20,263.80 C298.93,267.65 300.43,274.07 301.40,278.10 C302.37,282.13 303.12,285.02 304.00,288.00 C304.88,290.98 305.95,293.67 306.70,296.00 C307.45,298.33 307.88,300.50 308.50,302.00 C309.12,303.50 309.63,305.27 310.40,305.00 C311.17,304.73 312.25,301.93 313.10,300.40 C313.95,298.87 314.82,296.67 315.50,295.80 C316.18,294.93 316.65,294.92 317.20,295.20 C317.75,295.48 318.33,296.53 318.80,297.50 C319.27,298.47 319.25,297.75 320.00,301.00 C320.75,304.25 322.13,312.17 323.30,317.00 C324.47,321.83 325.45,326.28 327.00,330.00 C328.55,333.72 330.43,336.98 332.60,339.30 C334.77,341.62 337.10,343.12 340.00,343.90 C342.90,344.68 330.83,343.98 350.00,344.00 C369.17,344.02 437.50,344.00 455.00,344.00" fill="none" stroke="#ffa040" stroke-width="1.1" stroke-linejoin="round"/>
<path d="M283.70,221.70 C284.18,222.15 285.67,223.60 286.60,224.40 C287.53,225.20 288.53,225.60 289.30,226.50 C290.07,227.40 290.55,228.13 291.20,229.80 C291.85,231.47 292.63,234.07 293.20,236.50 C293.77,238.93 294.05,241.53 294.60,244.40 C295.15,247.27 295.95,251.10 296.50,253.70 C297.05,256.30 297.28,256.28 297.90,260.00 C298.52,263.72 299.35,271.43 300.20,276.00 C301.05,280.57 301.92,284.42 303.00,287.40 C304.08,290.38 305.47,293.13 306.70,293.90 C307.93,294.67 309.27,292.55 310.40,292.00 C311.53,291.45 312.42,290.13 313.50,290.60 C314.58,291.07 315.72,291.93 316.90,294.80 C318.08,297.67 319.37,303.17 320.60,307.80 C321.83,312.43 322.92,318.43 324.30,322.60 C325.68,326.77 327.22,330.48 328.90,332.80 C330.58,335.12 332.55,335.73 334.40,336.50 C336.25,337.27 338.13,337.55 340.00,337.40 C341.87,337.25 343.13,336.98 345.60,335.60 C348.07,334.22 352.40,330.97 354.80,329.10 C357.20,327.23 358.20,325.80 360.00,324.40 C361.80,323.00 363.60,321.68 365.60,320.70 C367.60,319.72 369.85,318.33 372.00,318.50 C374.15,318.67 375.87,319.32 378.50,321.70 C381.13,324.08 384.72,329.57 387.80,332.80 C390.88,336.03 393.62,339.23 397.00,341.10 C400.38,342.97 398.43,343.52 408.10,344.00 C417.77,344.48 447.18,344.00 455.00,344.00" fill="none" stroke="#ff40ff" stroke-width="1.1" stroke-linejoin="round"/>
<path d="M283.70,212.90 C284.00,213.38 284.95,215.20 285.50,215.80 C286.05,216.40 286.35,216.67 287.00,216.50 C287.65,216.33 288.62,214.53 289.40,214.80 C290.18,215.07 290.98,215.67 291.70,218.10 C292.42,220.53 293.05,224.92 293.70,229.40 C294.35,233.88 295.05,240.73 295.60,245.00 C296.15,249.27 296.57,251.87 297.00,255.00 C297.43,258.13 297.47,259.95 298.20,263.80 C298.93,267.65 300.43,274.07 301.40,278.10 C302.37,282.13 303.12,285.02 304.00,288.00 C304.88,290.98 305.95,293.67 306.70,296.00 C307.45,298.33 307.88,300.50 308.50,302.00 C309.12,303.50 309.63,305.27 310.40,305.00 C311.17,304.73 312.25,301.93 313.10,300.40 C313.95,298.87 314.82,296.67 315.50,295.80 C316.18,294.93 316.65,294.92 317.20,295.20 C317.75,295.48 318.33,296.53 318.80,297.50 C319.27,298.47 319.25,297.75 320.00,301.00 C320.75,304.25 322.13,312.17 323.30,317.00 C324.47,321.83 325.45,326.28 327.00,330.00 C328.55,333.72 331.67,337.80 332.60,339.30 C333.53,340.80 331.37,338.35 332.60,339.00 C333.83,339.65 319.60,342.48 340.00,343.20 C360.40,343.92 435.83,343.28 455.00,343.30" fill="none" stroke="#50a0ff" stroke-width="1.1" stroke-dasharray="3.4,3.3" stroke-linejoin="round"/>
<line x1="335.1" y1="216.4" x2="358.2" y2="216.4" stroke="#ffa040" stroke-width="1.1"/>
<line x1="335.1" y1="232.5" x2="358.2" y2="232.5" stroke="#ff40ff" stroke-width="1.1"/>
<line x1="335.1" y1="244.8" x2="358.2" y2="244.8" stroke="#50a0ff" stroke-width="1.1" stroke-dasharray="3.4,3.3"/>
<text x="360.7" y="220" fill="#1e1e1e"><tspan dy="0.00" font-size="9.8" letter-spacing="0.3">[PdCl</tspan><tspan dy="4.10" font-size="6.2" letter-spacing="0">2</tspan><tspan dy="-4.10" font-size="9.8" letter-spacing="0.3">(</tspan><tspan dy="0.00" font-size="9.6" letter-spacing="0.42" font-weight="bold">DTE</tspan><tspan dy="-4.30" font-size="6.2" letter-spacing="0.2">o</tspan><tspan dy="4.30" font-size="9.6" letter-spacing="0.42" font-weight="bold">-C</tspan><tspan dy="4.10" font-size="6.2" letter-spacing="0">6</tspan><tspan dy="-4.10" font-size="9.6" letter-spacing="0.42" font-weight="bold">F</tspan><tspan dy="4.10" font-size="6.2" letter-spacing="0">5</tspan><tspan dy="-4.10" font-size="9.8" letter-spacing="0.3">)</tspan><tspan dy="4.10" font-size="6.2" letter-spacing="0">2</tspan><tspan dy="-4.10" font-size="9.8" letter-spacing="0.3">]</tspan></text>
<text x="360.7" y="235" fill="#1e1e1e"><tspan dy="0.00" font-size="9.8" letter-spacing="0.3">PSS@365 nm</tspan></text>
<text x="360.7" y="248" fill="#1e1e1e"><tspan dy="0.00" font-size="9.8" letter-spacing="0.3">PSS@520 nm</tspan></text>
<rect x="516.5" y="206.5" width="175.20000000000005" height="140.8" fill="none" stroke="#5a5a5a" stroke-width="1.1"/>
<line x1="517.80" y1="347.3" x2="517.80" y2="350.3" stroke="#5a5a5a" stroke-width="1"/>
<text x="517.92" y="360.30" text-anchor="middle" font-size="9.9" letter-spacing="-0.25" fill="#1e1e1e">0</text>
<line x1="552.20" y1="347.3" x2="552.20" y2="350.3" stroke="#5a5a5a" stroke-width="1"/>
<text x="552.32" y="360.30" text-anchor="middle" font-size="9.9" letter-spacing="-0.25" fill="#1e1e1e">2</text>
<line x1="586.60" y1="347.3" x2="586.60" y2="350.3" stroke="#5a5a5a" stroke-width="1"/>
<text x="586.72" y="360.30" text-anchor="middle" font-size="9.9" letter-spacing="-0.25" fill="#1e1e1e">4</text>
<line x1="621.00" y1="347.3" x2="621.00" y2="350.3" stroke="#5a5a5a" stroke-width="1"/>
<text x="621.12" y="360.30" text-anchor="middle" font-size="9.9" letter-spacing="-0.25" fill="#1e1e1e">6</text>
<line x1="655.40" y1="347.3" x2="655.40" y2="350.3" stroke="#5a5a5a" stroke-width="1"/>
<text x="655.52" y="360.30" text-anchor="middle" font-size="9.9" letter-spacing="-0.25" fill="#1e1e1e">8</text>
<line x1="689.80" y1="347.3" x2="689.80" y2="350.3" stroke="#5a5a5a" stroke-width="1"/>
<text x="689.92" y="360.30" text-anchor="middle" font-size="9.9" letter-spacing="-0.25" fill="#1e1e1e">10</text>
<line x1="535.00" y1="347.3" x2="535.00" y2="349.3" stroke="#5a5a5a" stroke-width="1"/>
<line x1="569.40" y1="347.3" x2="569.40" y2="349.3" stroke="#5a5a5a" stroke-width="1"/>
<line x1="603.80" y1="347.3" x2="603.80" y2="349.3" stroke="#5a5a5a" stroke-width="1"/>
<line x1="638.20" y1="347.3" x2="638.20" y2="349.3" stroke="#5a5a5a" stroke-width="1"/>
<line x1="672.60" y1="347.3" x2="672.60" y2="349.3" stroke="#5a5a5a" stroke-width="1"/>
<line x1="513.5" y1="347.3" x2="516.5" y2="347.3" stroke="#5a5a5a" stroke-width="1"/>
<text x="510.5" y="350.30" text-anchor="end" font-size="9.9" letter-spacing="-0.25" fill="#1e1e1e">0.0</text>
<line x1="513.5" y1="290.85" x2="516.5" y2="290.85" stroke="#5a5a5a" stroke-width="1"/>
<text x="510.5" y="293.85" text-anchor="end" font-size="9.9" letter-spacing="-0.25" fill="#1e1e1e">0.1</text>
<line x1="513.5" y1="234.4" x2="516.5" y2="234.4" stroke="#5a5a5a" stroke-width="1"/>
<text x="510.5" y="237.40" text-anchor="end" font-size="9.9" letter-spacing="-0.25" fill="#1e1e1e">0.2</text>
<line x1="514.5" y1="319.075" x2="516.5" y2="319.075" stroke="#5a5a5a" stroke-width="1"/>
<line x1="514.5" y1="262.625" x2="516.5" y2="262.625" stroke="#5a5a5a" stroke-width="1"/>
<text x="603.8" y="374.3" text-anchor="middle" font-size="12" fill="#1e1e1e">Switching cycle</text>
<text transform="translate(488.1,324.8) rotate(-90)" font-size="12" fill="#1e1e1e">Absorbance@<tspan font-size="9.5">&#955;</tspan><tspan font-size="8.6" dy="4">det</tspan></text>
<path d="M517.80,346.50 L526.40,239.30 L535.00,346.50 L543.60,241.50 L552.20,346.50 L560.80,242.60 L569.40,346.50 L578.00,243.90 L586.60,346.50 L595.20,246.10 L603.80,346.50 L612.40,247.60 L621.00,346.50 L629.60,249.20 L638.20,346.50 L646.80,251.10 L655.40,346.50 L664.00,254.00 L672.60,346.50 L681.20,256.30 L689.80,346.50" fill="none" stroke="#4646ff" stroke-width="1.0" stroke-linejoin="round"/>
<path d="M517.80,346.50 L526.40,268.00 L535.00,340.80 L543.60,272.00 L552.20,340.80 L560.80,274.50 L569.40,340.00 L578.00,275.40 L586.60,338.00 L595.20,276.00 L603.80,339.00 L612.40,277.40 L621.00,337.60 L629.60,278.40 L638.20,336.00 L646.80,279.30 L655.40,336.00 L664.00,280.20 L672.60,333.30 L681.20,280.60 L689.80,336.00" fill="none" stroke="#ff40ff" stroke-width="1.0" stroke-linejoin="round"/>
<circle cx="517.80" cy="346.50" r="1.9" fill="#ff40ff"/>
<circle cx="526.40" cy="268.00" r="1.9" fill="#ff40ff"/>
<circle cx="535.00" cy="340.80" r="1.9" fill="#ff40ff"/>
<circle cx="543.60" cy="272.00" r="1.9" fill="#ff40ff"/>
<circle cx="552.20" cy="340.80" r="1.9" fill="#ff40ff"/>
<circle cx="560.80" cy="274.50" r="1.9" fill="#ff40ff"/>
<circle cx="569.40" cy="340.00" r="1.9" fill="#ff40ff"/>
<circle cx="578.00" cy="275.40" r="1.9" fill="#ff40ff"/>
<circle cx="586.60" cy="338.00" r="1.9" fill="#ff40ff"/>
<circle cx="595.20" cy="276.00" r="1.9" fill="#ff40ff"/>
<circle cx="603.80" cy="339.00" r="1.9" fill="#ff40ff"/>
<circle cx="612.40" cy="277.40" r="1.9" fill="#ff40ff"/>
<circle cx="621.00" cy="337.60" r="1.9" fill="#ff40ff"/>
<circle cx="629.60" cy="278.40" r="1.9" fill="#ff40ff"/>
<circle cx="638.20" cy="336.00" r="1.9" fill="#ff40ff"/>
<circle cx="646.80" cy="279.30" r="1.9" fill="#ff40ff"/>
<circle cx="655.40" cy="336.00" r="1.9" fill="#ff40ff"/>
<circle cx="664.00" cy="280.20" r="1.9" fill="#ff40ff"/>
<circle cx="672.60" cy="333.30" r="1.9" fill="#ff40ff"/>
<circle cx="681.20" cy="280.60" r="1.9" fill="#ff40ff"/>
<circle cx="689.80" cy="336.00" r="1.9" fill="#ff40ff"/>
<line x1="517.80" y1="346.5" x2="520.17" y2="317" stroke="#70f0ff" stroke-width="1.2" stroke-dasharray="2,1"/>
<line x1="535.00" y1="346.5" x2="532.63" y2="317" stroke="#70f0ff" stroke-width="1.2" stroke-dasharray="2,1"/>
<line x1="535.00" y1="346.5" x2="537.42" y2="317" stroke="#70f0ff" stroke-width="1.2" stroke-dasharray="2,1"/>
<line x1="552.20" y1="346.5" x2="549.78" y2="317" stroke="#70f0ff" stroke-width="1.2" stroke-dasharray="2,1"/>
<line x1="552.20" y1="346.5" x2="554.64" y2="317" stroke="#70f0ff" stroke-width="1.2" stroke-dasharray="2,1"/>
<line x1="569.40" y1="346.5" x2="566.96" y2="317" stroke="#70f0ff" stroke-width="1.2" stroke-dasharray="2,1"/>
<line x1="569.40" y1="346.5" x2="571.87" y2="317" stroke="#70f0ff" stroke-width="1.2" stroke-dasharray="2,1"/>
<line x1="586.60" y1="346.5" x2="584.13" y2="317" stroke="#70f0ff" stroke-width="1.2" stroke-dasharray="2,1"/>
<line x1="586.60" y1="346.5" x2="589.13" y2="317" stroke="#70f0ff" stroke-width="1.2" stroke-dasharray="2,1"/>
<line x1="603.80" y1="346.5" x2="601.27" y2="317" stroke="#70f0ff" stroke-width="1.2" stroke-dasharray="2,1"/>
<line x1="603.80" y1="346.5" x2="606.37" y2="317" stroke="#70f0ff" stroke-width="1.2" stroke-dasharray="2,1"/>
<line x1="621.00" y1="346.5" x2="618.43" y2="317" stroke="#70f0ff" stroke-width="1.2" stroke-dasharray="2,1"/>
<line x1="621.00" y1="346.5" x2="623.61" y2="317" stroke="#70f0ff" stroke-width="1.2" stroke-dasharray="2,1"/>
<line x1="638.20" y1="346.5" x2="635.59" y2="317" stroke="#70f0ff" stroke-width="1.2" stroke-dasharray="2,1"/>
<line x1="638.20" y1="346.5" x2="640.86" y2="317" stroke="#70f0ff" stroke-width="1.2" stroke-dasharray="2,1"/>
<line x1="655.40" y1="346.5" x2="652.74" y2="317" stroke="#70f0ff" stroke-width="1.2" stroke-dasharray="2,1"/>
<line x1="655.40" y1="346.5" x2="658.14" y2="317" stroke="#70f0ff" stroke-width="1.2" stroke-dasharray="2,1"/>
<line x1="672.60" y1="346.5" x2="669.86" y2="317" stroke="#70f0ff" stroke-width="1.2" stroke-dasharray="2,1"/>
<line x1="672.60" y1="346.5" x2="675.41" y2="317" stroke="#70f0ff" stroke-width="1.2" stroke-dasharray="2,1"/>
<line x1="689.80" y1="346.5" x2="686.99" y2="317" stroke="#70f0ff" stroke-width="1.2" stroke-dasharray="2,1"/>
<rect x="515.80" y="344.50" width="4" height="4" fill="#1010ee"/>
<rect x="524.40" y="237.30" width="4" height="4" fill="#1010ee"/>
<rect x="533.00" y="344.50" width="4" height="4" fill="#1010ee"/>
<rect x="541.60" y="239.50" width="4" height="4" fill="#1010ee"/>
<rect x="550.20" y="344.50" width="4" height="4" fill="#1010ee"/>
<rect x="558.80" y="240.60" width="4" height="4" fill="#1010ee"/>
<rect x="567.40" y="344.50" width="4" height="4" fill="#1010ee"/>
<rect x="576.00" y="241.90" width="4" height="4" fill="#1010ee"/>
<rect x="584.60" y="344.50" width="4" height="4" fill="#1010ee"/>
<rect x="593.20" y="244.10" width="4" height="4" fill="#1010ee"/>
<rect x="601.80" y="344.50" width="4" height="4" fill="#1010ee"/>
<rect x="610.40" y="245.60" width="4" height="4" fill="#1010ee"/>
<rect x="619.00" y="344.50" width="4" height="4" fill="#1010ee"/>
<rect x="627.60" y="247.20" width="4" height="4" fill="#1010ee"/>
<rect x="636.20" y="344.50" width="4" height="4" fill="#1010ee"/>
<rect x="644.80" y="249.10" width="4" height="4" fill="#1010ee"/>
<rect x="653.40" y="344.50" width="4" height="4" fill="#1010ee"/>
<rect x="662.00" y="252.00" width="4" height="4" fill="#1010ee"/>
<rect x="670.60" y="344.50" width="4" height="4" fill="#1010ee"/>
<rect x="679.20" y="254.30" width="4" height="4" fill="#1010ee"/>
<rect x="687.80" y="344.50" width="4" height="4" fill="#1010ee"/>
<line x1="518.4" y1="214.8" x2="540.9" y2="214.8" stroke="#4646ff" stroke-width="1"/>
<rect x="527.7" y="213.2" width="3.2" height="3.2" fill="#1010ee"/>
<line x1="518.4" y1="230.8" x2="540.9" y2="230.8" stroke="#ff40ff" stroke-width="1"/>
<circle cx="529.3" cy="230.8" r="1.9" fill="#ff40ff"/>
<text x="544.3" y="218.2" fill="#1e1e1e"><tspan dy="0.00" font-size="9.8" letter-spacing="0.3">[PdCl</tspan><tspan dy="4.10" font-size="6.2" letter-spacing="0">2</tspan><tspan dy="-4.10" font-size="9.8" letter-spacing="0.3">(</tspan><tspan dy="0.00" font-size="9.6" letter-spacing="0.42" font-weight="bold">DTE-COCF</tspan><tspan dy="4.10" font-size="6.2" letter-spacing="0">3</tspan><tspan dy="-4.10" font-size="9.8" letter-spacing="0.3">)</tspan><tspan dy="4.10" font-size="6.2" letter-spacing="0">2</tspan><tspan dy="-4.10" font-size="9.8" letter-spacing="0.3">]@604 nm</tspan></text>
<text x="544.3" y="233.6" fill="#1e1e1e"><tspan dy="0.00" font-size="9.8" letter-spacing="0.3">[PdCl</tspan><tspan dy="4.10" font-size="6.2" letter-spacing="0">2</tspan><tspan dy="-4.10" font-size="9.8" letter-spacing="0.3">(</tspan><tspan dy="0.00" font-size="9.6" letter-spacing="0.42" font-weight="bold">DTE-C</tspan><tspan dy="4.10" font-size="6.2" letter-spacing="0">6</tspan><tspan dy="-4.10" font-size="9.6" letter-spacing="0.42" font-weight="bold">F</tspan><tspan dy="4.10" font-size="6.2" letter-spacing="0">5</tspan><tspan dy="-4.10" font-size="9.8" letter-spacing="0.3">)</tspan><tspan dy="4.10" font-size="6.2" letter-spacing="0">2</tspan><tspan dy="-4.10" font-size="9.8" letter-spacing="0.3">]@532 nm</tspan></text>
</svg></body></html>
